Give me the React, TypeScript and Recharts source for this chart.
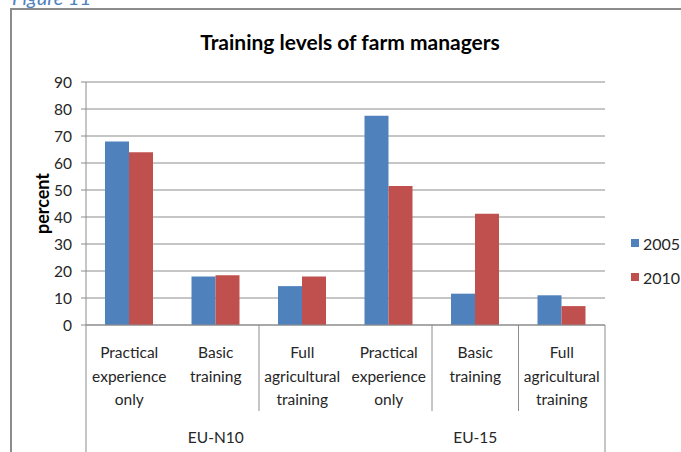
import { BarChart, Bar, XAxis, YAxis, CartesianGrid, Legend } from 'recharts';

const categories = [
  'Practical experience only',
  'Basic training',
  'Full agricultural training',
  'Practical experience only',
  'Basic training',
  'Full agricultural training',
];
const regions = ['EU-N10', 'EU-N10', 'EU-N10', 'EU-15', 'EU-15', 'EU-15'];
const values2005 = [68, 18, 14.4, 77.5, 11.6, 11];
const values2010 = [64, 18.4, 18, 51.5, 41.2, 7];
const yTicks = [0, 10, 20, 30, 40, 50, 60, 70, 80, 90];
const seriesNames = ['2005', '2010'];

const data = categories.map((label, i) => ({
  label,
  region: regions[i],
  y2005: values2005[i],
  y2010: values2010[i],
}));

const W = 681;
const H = 452;
const PLOT_LEFT = 86;
const PLOT_RIGHT = 605;
const PLOT_TOP = 82;
const PLOT_BOTTOM = 325;
const BAND = (PLOT_RIGHT - PLOT_LEFT) / categories.length;
const FONT = "Lato, 'Open Sans', sans-serif";
const GRID = '#8c8c8c';
const TEXT = '#262626';
const shortDividers = [2, 4, 5];

function CategoryTick(props: any) {
  const { x, payload } = props;
  const index: number = payload.index ?? props.index;
  const words = String(payload.value).split(' ');
  const region = regions[index];
  const first = regions.indexOf(region);
  const last = regions.lastIndexOf(region);
  const left = x - BAND / 2;
  return (
    <g>
      {words.map((w, k) => (
        <text key={k} x={x} y={PLOT_BOTTOM + 33 + k * 23.5} textAnchor="middle"
          fontFamily={FONT} fontSize={15.5} fill={TEXT}>
          {w}
        </text>
      ))}
      {index === 0 && <line x1={left} x2={left} y1={PLOT_BOTTOM} y2={H} stroke={GRID} />}
      {shortDividers.includes(index) && (
        <line x1={left} x2={left} y1={PLOT_BOTTOM} y2={411} stroke={GRID} />
      )}
      {index === categories.length - 1 && (
        <line x1={x + BAND / 2} x2={x + BAND / 2} y1={PLOT_BOTTOM} y2={H} stroke={GRID} />
      )}
      {index === first && (
        <text x={x + ((first + last) / 2 - index) * BAND} y={443} textAnchor="middle"
          fontFamily={FONT} fontSize={15.5} fill={TEXT}>
          {region}
        </text>
      )}
    </g>
  );
}

function LegendBox({ payload }: any) {
  return (
    <div style={{ fontFamily: FONT, fontSize: 16, color: TEXT }}>
      {(payload ?? []).map((p: any, i: number) => (
        <div key={i} style={{ display: 'flex', alignItems: 'center', height: 34, whiteSpace: 'nowrap' }}>
          <span style={{ width: 8, height: 8, background: p.color, marginRight: 4, display: 'inline-block' }} />
          <span>{p.value}</span>
        </div>
      ))}
    </div>
  );
}

export default function App() {
  return (
    <div style={{ position: 'absolute', left: 0, top: 0, width: W, height: H, background: '#fff', overflow: 'hidden' }}>
      <div style={{
        position: 'absolute', left: 12, top: -13, fontFamily: FONT,
        fontStyle: 'italic', fontSize: 20, lineHeight: '20px', color: '#4f81bd',
      }}>
        Figure 11
      </div>
      <div style={{
        position: 'absolute', left: 10, top: 8, width: W, height: H,
        borderLeft: `2px solid ${GRID}`, borderTop: `2px solid ${GRID}`,
      }} />
      <div style={{
        position: 'absolute', left: 0, width: 700, top: 29, textAlign: 'center',
        fontFamily: FONT, fontWeight: 700, fontSize: 21, color: '#000',
      }}>
        Training levels of farm managers
      </div>
      <div style={{ position: 'absolute', left: 0, top: 0 }}>
        <BarChart width={W} height={H} data={data} barGap={0} barSize={24}
          margin={{ top: PLOT_TOP, right: W - PLOT_RIGHT, bottom: 0, left: 0 }}>
          <CartesianGrid vertical={false} stroke={GRID} />
          <XAxis dataKey="label" height={H - PLOT_BOTTOM} interval={0} tickLine={false}
            axisLine={{ stroke: GRID }} tick={<CategoryTick />} />
          <YAxis width={PLOT_LEFT} domain={[0, 90]} ticks={yTicks} interval={0}
            axisLine={{ stroke: GRID }} tickLine={{ stroke: GRID }} tickSize={5} tickMargin={9}
            tick={{ fontFamily: FONT, fontSize: 15.5, fill: TEXT }}
            label={{ value: 'percent', angle: -90, position: 'insideLeft', offset: 43,
              style: { fontFamily: FONT, fontWeight: 700, fontSize: 18, fill: '#000', textAnchor: 'middle' } }} />
          <Legend layout="horizontal" verticalAlign="middle" content={<LegendBox />}
            wrapperStyle={{ left: 631, top: 226, width: 50 }} />
          <Bar dataKey="y2005" name={seriesNames[0]} fill="#4f81bd" isAnimationActive={false} />
          <Bar dataKey="y2010" name={seriesNames[1]} fill="#c0504d" isAnimationActive={false} />
        </BarChart>
      </div>
    </div>
  );
}
